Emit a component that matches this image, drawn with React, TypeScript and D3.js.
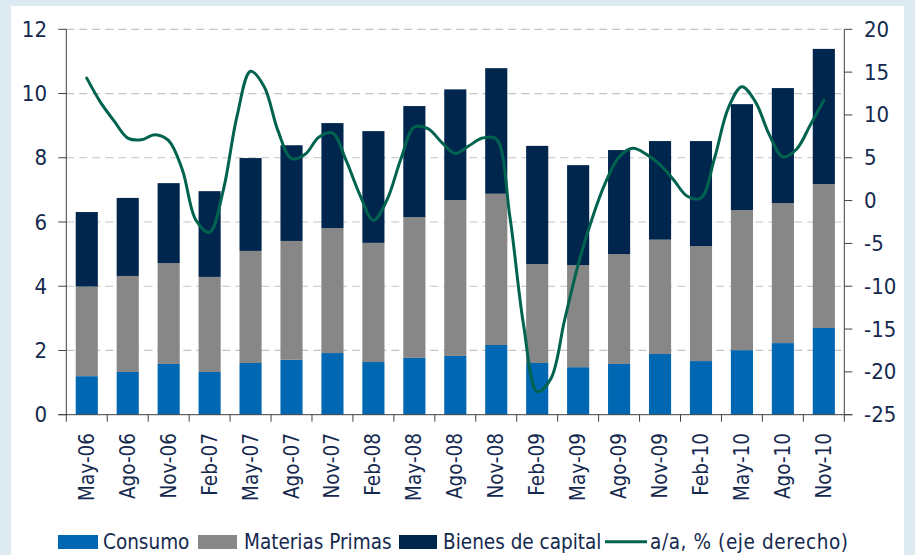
import React from "react";
import * as d3 from "d3";

const categories = ["May-06","Ago-06","Nov-06","Feb-07","May-07","Ago-07","Nov-07","Feb-08","May-08","Ago-08","Nov-08","Feb-09","May-09","Ago-09","Nov-09","Feb-10","May-10","Ago-10","Nov-10"];
const consumo = [1.20,1.33,1.58,1.33,1.61,1.71,1.92,1.64,1.77,1.83,2.17,1.61,1.48,1.58,1.89,1.67,2.01,2.23,2.70];
const materiasPrimas = [2.79,2.99,3.14,2.96,3.49,3.70,3.89,3.71,4.38,4.85,4.71,3.08,3.18,3.42,3.56,3.58,4.36,4.36,4.48];
const bienesCapital = [2.32,2.43,2.49,2.67,2.89,2.98,3.27,3.48,3.46,3.45,3.91,3.68,3.11,3.24,3.07,3.27,3.30,3.58,4.21];
// monthly year-on-year growth, May-06 .. Nov-10 (right axis)
const yoy = [14.3,11.5,9.3,7.3,7.1,7.7,7.0,3.6,-2.3,-3.7,1.2,9.8,15.1,13.3,8.2,4.9,5.4,7.4,7.9,4.7,0.7,-2.3,0.1,4.8,8.6,8.4,6.8,5.5,6.4,7.3,7.2,-1.9,-14.5,-22.3,-20.8,-14.0,-7.5,-2.2,2.1,5.1,6.1,5.4,4.2,2.4,0.5,0.3,5.0,10.8,13.3,11.5,7.7,5.1,6.0,8.8,11.7];
const leftTicks = [0,2,4,6,8,10,12];
const rightTicks = [-25,-20,-15,-10,-5,0,5,10,15,20];

const seriesNames = ["Consumo","Materias Primas","Bienes de capital"];
const colors = ["#0068b3","#878787","#00264d"];
const lineColor = "#00634f";
const textColor = "#15294f";
const font = "'DejaVu Sans Condensed', 'DejaVu Sans', sans-serif";

export default function App() {
  const W = 915, H = 555;
  const x0 = 66.3, x1 = 844.3, yTop = 29.3, yBot = 414.7;
  const x = d3.scaleBand<string>().domain(categories).range([x0, x1]).paddingInner(0.46).paddingOuter(0.23);
  const yL = d3.scaleLinear().domain([0, 12]).range([yBot, yTop]);
  const yR = d3.scaleLinear().domain([-25, 20]).range([yBot, yTop]);
  const cx = (c: string) => (x(c) as number) + x.bandwidth() / 2;
  const xm = d3.scaleLinear().domain([0, yoy.length - 1]).range([cx(categories[0]), cx(categories[categories.length - 1])]);

  const rows = categories.map((c, i) => ({ cat: c, s0: consumo[i], s1: materiasPrimas[i], s2: bienesCapital[i] }));
  const stack = d3.stack<any>().keys(["s0", "s1", "s2"])(rows);

  const line = d3.line<number>().x((_, i) => xm(i)).y(d => yR(d)).curve(d3.curveCatmullRom.alpha(0.5));
  const step = x.step();

  const legendY = 541.7;

  return (
    <svg width={W} height={H} style={{ position: "absolute", left: 0, top: 0 }} fontFamily={font}>
      <rect x={0} y={0} width={W} height={H} fill="#deeaf1" />
      <rect x={11} y={6} width={893} height={H - 6} fill="#ffffff" />
      {/* grid */}
      {leftTicks.filter(t => t > 0).map(t => (
        <line key={t} x1={x0} x2={x1} y1={yL(t)} y2={yL(t)} stroke="#c4c4c4" strokeWidth={1.2} strokeDasharray="8,5" />
      ))}
      {/* bars */}
      {stack.map((s, si) => (
        <g key={si} fill={colors[si]}>
          {s.map((d: any, i: number) => (
            <rect key={i} x={x(categories[i])} width={x.bandwidth()} y={yL(d[1])} height={yL(d[0]) - yL(d[1])} />
          ))}
        </g>
      ))}
      {/* axes */}
      <line x1={x0} x2={x0} y1={yTop} y2={yBot} stroke="#404040" strokeWidth={1} />
      <line x1={x1} x2={x1} y1={yTop} y2={yBot} stroke="#404040" strokeWidth={1} />
      <line x1={x0 - 8} x2={x1 + 8} y1={yBot} y2={yBot} stroke="#404040" strokeWidth={1} />
      {leftTicks.map(t => (
        <g key={t}>
          <line x1={x0 - 8} x2={x0} y1={yL(t)} y2={yL(t)} stroke="#404040" />
          <text x={47} y={yL(t)} textAnchor="end" dominantBaseline="central" fontSize={22} fill={textColor}>{t}</text>
        </g>
      ))}
      {rightTicks.map(t => (
        <g key={t}>
          <line x1={x1} x2={x1 + 8} y1={yR(t)} y2={yR(t)} stroke="#404040" />
          <text x={864} y={yR(t)} textAnchor="start" dominantBaseline="central" fontSize={22} fill={textColor}>{t}</text>
        </g>
      ))}
      {d3.range(categories.length + 1).map(i => (
        <line key={i} x1={x0 + i * step} x2={x0 + i * step} y1={yBot} y2={yBot + 7} stroke="#404040" />
      ))}
      {categories.map(c => (
        <text key={c} transform={`translate(${cx(c)},433) rotate(-90)`} textAnchor="end" dominantBaseline="central" fontSize={20.5} fill={textColor}>{c}</text>
      ))}
      {/* line */}
      <path d={line(yoy) || ""} fill="none" stroke={lineColor} strokeWidth={3} strokeLinejoin="round" strokeLinecap="round" />
      {/* legend */}
      <rect x={58} y={535} width={40} height={14} fill={colors[0]} />
      <text x={103} y={legendY} dominantBaseline="central" fontSize={20.5} fill={textColor}>{seriesNames[0]}</text>
      <rect x={198} y={535} width={39} height={14} fill={colors[1]} />
      <text x={244} y={legendY} dominantBaseline="central" fontSize={20.5} fill={textColor}>{seriesNames[1]}</text>
      <rect x={399} y={535} width={38} height={14} fill={colors[2]} />
      <text x={443} y={legendY} dominantBaseline="central" fontSize={20.5} fill={textColor}>{seriesNames[2]}</text>
      <line x1={605} x2={647} y1={legendY} y2={legendY} stroke={lineColor} strokeWidth={3} />
      <text x={650} y={legendY} dominantBaseline="central" fontSize={20.5} letterSpacing={0.6} fill={textColor}>a/a, % (eje derecho)</text>
    </svg>
  );
}
